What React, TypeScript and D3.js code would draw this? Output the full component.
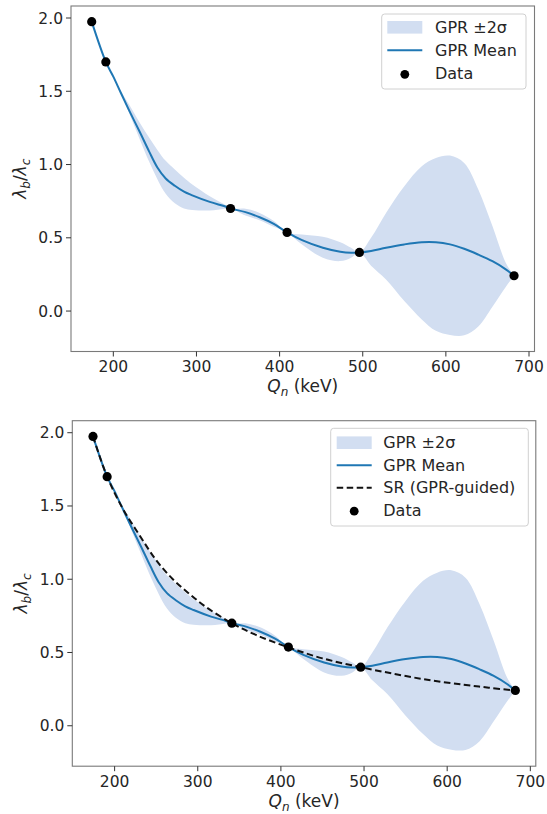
import * as d3 from "d3";

// measured points
const dataQ = [174, 191, 341, 409, 496, 682];
const dataRatio = [1.975, 1.7, 0.7, 0.537, 0.4, 0.241];

// GPR mean and 2-sigma band
const gprQ = [174, 191, 200, 209, 219, 232, 243, 253, 263, 274, 285, 295, 316, 334, 341, 359, 376, 393, 409, 427, 452, 473, 486, 496, 510, 528, 550, 571, 588, 605, 622, 639, 656, 672, 682];
const gprMean = [1.975, 1.7, 1.6, 1.49, 1.37, 1.22, 1.09, 0.98, 0.905, 0.855, 0.815, 0.79, 0.745, 0.715, 0.7, 0.675, 0.64, 0.595, 0.537, 0.484, 0.432, 0.405, 0.398, 0.4, 0.41, 0.432, 0.455, 0.47, 0.47, 0.455, 0.425, 0.385, 0.34, 0.285, 0.241];
const gprUpper = [1.975, 1.7, 1.6, 1.5, 1.41, 1.284, 1.185, 1.1, 1.025, 0.966, 0.91, 0.864, 0.784, 0.727, 0.7, 0.698, 0.67, 0.614, 0.537, 0.523, 0.507, 0.47, 0.432, 0.4, 0.5, 0.67, 0.852, 0.989, 1.045, 1.061, 1.011, 0.83, 0.58, 0.33, 0.241];
const gprLower = [1.975, 1.7, 1.6, 1.49, 1.352, 1.17, 1.02, 0.9, 0.8, 0.735, 0.7, 0.69, 0.686, 0.698, 0.7, 0.652, 0.62, 0.575, 0.537, 0.455, 0.364, 0.341, 0.364, 0.4, 0.31, 0.216, 0.068, -0.057, -0.135, -0.163, -0.165, -0.105, 0.03, 0.165, 0.241];

// symbolic regression curve (dashed)
const srQ = [174, 191, 210, 230, 250, 270, 290, 310, 341, 370, 409, 450, 496, 540, 580, 620, 650, 682];
const srRatio = [1.975, 1.7, 1.48, 1.3, 1.13, 1.0, 0.9, 0.81, 0.7, 0.62, 0.535, 0.46, 0.4, 0.35, 0.31, 0.28, 0.26, 0.24];

const xTicks = [200, 300, 400, 500, 600, 700];
const yTicks = [0, 0.5, 1.0, 1.5, 2.0];

const W = 463.5;
const H = 345.5;
const font = "DejaVu Sans, sans-serif";
const bandColor = "#d2def1";
const meanColor = "#1f77b4";

function Panel({ left, top, withSR }) {
  const x = d3.scaleLinear([149.1, 706.6], [0, W]);
  const y = d3.scaleLinear([-0.276, 2.082], [H, 0]);

  const band = d3.area()
    .x((d, i) => x(gprQ[i]))
    .y0((d, i) => y(gprLower[i]))
    .y1((d, i) => y(gprUpper[i]))
    .curve(d3.curveCatmullRom.alpha(0.5));
  const meanLine = d3.line()
    .x((d, i) => x(gprQ[i]))
    .y((d) => y(d))
    .curve(d3.curveCatmullRom.alpha(0.5));
  const srLine = d3.line()
    .x((d, i) => x(srQ[i]))
    .y((d) => y(d))
    .curve(d3.curveCatmullRom.alpha(0.5));

  const legendItems = withSR
    ? ["GPR ±2σ", "GPR Mean", "SR (GPR-guided)", "Data"]
    : ["GPR ±2σ", "GPR Mean", "Data"];
  const lg = withSR
    ? { x: 258.4, y: 7.6, w: 197.6, h: 97.7, step: 22.5, first: 14.4, px: 6, tx: 52.6 }
    : { x: 310.7, y: 8, w: 144.3, h: 75, step: 23, first: 13.3, px: 5.6, tx: 53.3 };

  return (
    <g transform={`translate(${left},${top})`}>
      <path d={band(gprQ)} fill={bandColor} />
      <path d={meanLine(gprMean)} fill="none" stroke={meanColor} strokeWidth={2} />
      {withSR && (
        <path d={srLine(srRatio)} fill="none" stroke="#111" strokeWidth={2} strokeDasharray="6.5,3.5" />
      )}
      {dataQ.map((q, i) => (
        <circle key={i} cx={x(q)} cy={y(dataRatio[i])} r={4.6} fill="#000" />
      ))}

      <rect x={0} y={0} width={W} height={H} fill="none" stroke="#7a7a7a" strokeWidth={1.1} />

      {xTicks.map((t) => (
        <g key={t} transform={`translate(${x(t)},${H})`}>
          <line y2={5} stroke="#333" />
          <text y={20.5} textAnchor="middle" fontSize={15.5} fontFamily={font} fill="#262626">{t}</text>
        </g>
      ))}
      {yTicks.map((t) => (
        <g key={t} transform={`translate(0,${y(t)})`}>
          <line x2={-5} stroke="#333" />
          <text x={-8} y={5.5} textAnchor="end" fontSize={15.5} fontFamily={font} fill="#262626">{t.toFixed(1)}</text>
        </g>
      ))}

      <text x={W / 2} y={H + 40.5} textAnchor="middle" fontSize={17} fontFamily={font} fill="#262626">
        <tspan fontStyle="italic">Q</tspan>
        <tspan fontStyle="italic" fontSize={12} dy={4}>n</tspan>
        <tspan dy={-4}> (keV)</tspan>
      </text>
      <text transform={`translate(${-45},${H / 2}) rotate(-90)`} textAnchor="middle" fontSize={17} fontFamily={font} fill="#262626">
        <tspan fontStyle="italic">λ</tspan>
        <tspan fontStyle="italic" fontSize={12} dy={4}>b</tspan>
        <tspan dy={-4}>/</tspan>
        <tspan fontStyle="italic">λ</tspan>
        <tspan fontStyle="italic" fontSize={12} dy={4}>c</tspan>
      </text>

      <g transform={`translate(${lg.x},${lg.y})`}>
        <rect width={lg.w} height={lg.h} rx={3} fill="#fff" fillOpacity={0.85} stroke="#d0d0d0" />
        {legendItems.map((name, i) => {
          const cy = lg.first + i * lg.step;
          let mark;
          if (name === "GPR ±2σ") mark = <rect x={lg.px} y={cy - 6.3} width={35} height={12.6} fill={bandColor} />;
          else if (name === "GPR Mean") mark = <line x1={lg.px} x2={lg.px + 35} y1={cy} y2={cy} stroke={meanColor} strokeWidth={2} />;
          else if (name === "Data") mark = <circle cx={lg.px + 17.5} cy={cy + 1} r={4.4} fill="#000" />;
          else mark = <line x1={lg.px} x2={lg.px + 35} y1={cy} y2={cy} stroke="#111" strokeWidth={2} strokeDasharray="6.5,3.5" />;
          return (
            <g key={name}>
              {mark}
              <text x={lg.tx} y={cy + 5.8} fontSize={16} fontFamily={font} fill="#262626">{name}</text>
            </g>
          );
        })}
      </g>
    </g>
  );
}

export default function App() {
  return (
    <svg width={547} height={814} style={{ position: "absolute", left: 0, top: 0, background: "#fff" }}>
      <Panel left={71} top={6} withSR={false} />
      <Panel left={72.3} top={420.7} withSR={true} />
    </svg>
  );
}
